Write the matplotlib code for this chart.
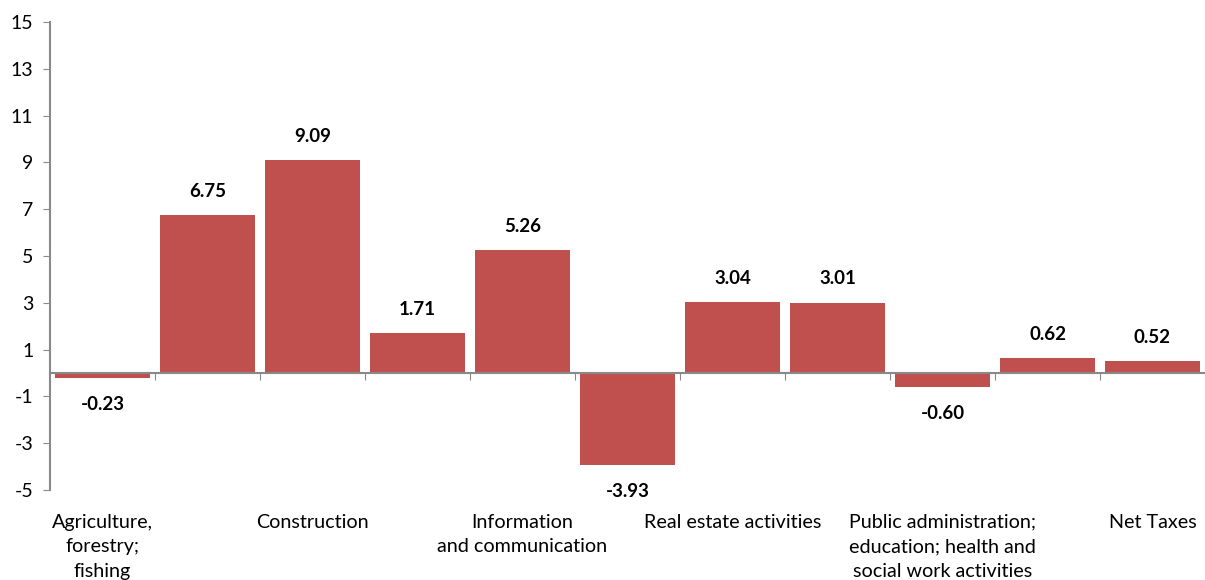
import matplotlib
matplotlib.use("Agg")
import matplotlib.pyplot as plt
import numpy as np

plt.rcParams["font.family"] = ["Lato", "DejaVu Sans"]
plt.rcParams["axes.unicode_minus"] = False

# values per sector, left to right (only every other category label is shown)
values = [-0.23, 6.75, 9.09, 1.71, 5.26, -3.93, 3.04, 3.01, -0.60, 0.62, 0.52]
tick_labels = [
    "Agriculture,\nforestry;\nfishing", "",
    "Construction", "",
    "Information\nand communication", "",
    "Real estate activities", "",
    "Public administration;\neducation; health and\nsocial work activities", "",
    "Net Taxes",
]
y_ticks = list(range(-5, 16, 2))

BAR = "#C0504D"
AXIS = "#898989"

fig = plt.figure(figsize=(12.05, 5.8), dpi=100)
ax = fig.add_axes([50 / 1205, 1 - 490 / 580, 1 - 50 / 1205, (490 - 22) / 580])

x = np.arange(len(values))
ax.bar(x, values, width=0.9, color=BAR, zorder=2)

for xi, v in zip(x, values):
    off = 17 if v >= 0 else -19
    ax.annotate(f"{v:.2f}", (xi, v), xytext=(0, off), textcoords="offset points",
                ha="center", va="center", fontsize=13.5, fontweight="bold", color="black")

ax.set_xlim(-0.5, len(values) - 0.5)
ax.set_ylim(-5, 15)
ax.set_yticks(y_ticks)
ax.tick_params(axis="y", length=5, color=AXIS, labelsize=14, pad=7)

# category axis sits on zero, with ticks between categories
ax.spines["bottom"].set_position(("data", 0))
ax.set_xticks(np.arange(0.5, len(values) - 0.5, 1.0))
ax.set_xticklabels([])
ax.tick_params(axis="x", direction="out", length=5, color=AXIS)
for side in ("top", "right"):
    ax.spines[side].set_visible(False)
for side in ("left", "bottom"):
    ax.spines[side].set_color(AXIS)
    ax.spines[side].set_linewidth(1.5)

# category names placed low, below the plot area
sec = ax.secondary_xaxis("bottom")
sec.set_xticks(x, tick_labels)
sec.tick_params(length=0, pad=17, labelsize=14.2)
sec.spines["bottom"].set_visible(False)
for lbl in sec.get_xticklabels():
    lbl.set_linespacing(1.55)

fig.savefig("out.png", dpi=100)
